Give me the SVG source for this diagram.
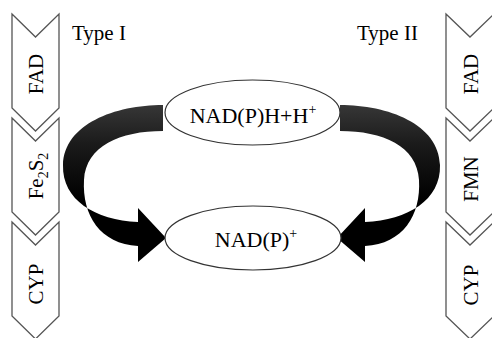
<svg xmlns="http://www.w3.org/2000/svg" width="492" height="338" viewBox="0 0 492 338">
<style>
text{font-family:"Liberation Serif","Times New Roman",serif;fill:#000}
.chev{fill:#fff;stroke:#555;stroke-width:1.3;stroke-linejoin:miter}
.ell{fill:#fff;stroke:#333;stroke-width:1.2}
.lab{font-size:21px;text-anchor:middle}
.big{font-size:22px;text-anchor:middle}
.arrow{fill:url(#g)}
</style>
<defs>
<linearGradient id="g" gradientUnits="userSpaceOnUse" x1="0" y1="100" x2="0" y2="200">
<stop offset="0" stop-color="#3a3a3a"/>
<stop offset="0.45" stop-color="#1a1a1a"/>
<stop offset="1" stop-color="#000"/>
</linearGradient>
<path id="arr" d="M163,105 C115,105 64,124 63,165 C62,200 95,220 138,222 L138,208 L166,238 L138,262 L138,246 C100,244 82,215 84,180 C86,146 120,131 163,131 Z"/>
</defs>
<rect width="492" height="338" fill="#fff"/>
<g id="connectors">
<use href="#arr" class="arrow"/>
<use href="#arr" class="arrow" transform="translate(503,0) scale(-1,1)"/>
</g>
<g id="left-FAD">
<path class="chev" d="M12,14 L35.5,37 L59,14 L59,108 L35.5,131 L12,108 Z"/>
<text class="lab" transform="translate(43,74) rotate(-90)">FAD</text>
</g>
<g id="left-Fe2S2">
<path class="chev" d="M12,118 L35.5,141 L59,118 L59,212 L35.5,235 L12,212 Z"/>
<text class="lab" transform="translate(43,176) rotate(-90)">Fe<tspan font-size="14" dy="5">2</tspan><tspan dy="-5">S</tspan><tspan font-size="14" dy="5">2</tspan></text>
</g>
<g id="left-CYP">
<path class="chev" d="M12,222 L35.5,245 L59,222 L59,316 L35.5,339 L12,316 Z"/>
<text class="lab" transform="translate(43,284) rotate(-90)">CYP</text>
</g>
<g id="right-FAD">
<path class="chev" d="M446,14 L470,37 L494,14 L494,108 L470,131 L446,108 Z"/>
<text class="lab" transform="translate(478,74) rotate(-90)">FAD</text>
</g>
<g id="right-FMN">
<path class="chev" d="M446,118 L470,141 L494,118 L494,212 L470,235 L446,212 Z"/>
<text class="lab" transform="translate(478,179) rotate(-90)">FMN</text>
</g>
<g id="right-CYP">
<path class="chev" d="M446,222 L470,245 L494,222 L494,316 L470,339 L446,316 Z"/>
<text class="lab" transform="translate(478,285) rotate(-90)">CYP</text>
</g>
<g id="typeI"><text x="72" y="40" font-size="21">Type I</text></g>
<g id="typeII"><text x="357" y="40" font-size="21">Type II</text></g>
<g id="nadph">
<ellipse class="ell" cx="252.5" cy="112.5" rx="87.5" ry="32.5"/>
<text class="big" x="253" y="123">NAD(P)H+H<tspan font-size="14" dy="-9">+</tspan></text>
</g>
<g id="nadp">
<ellipse class="ell" cx="253" cy="238" rx="88" ry="32"/>
<text class="big" x="256" y="247">NAD(P)<tspan font-size="14" dy="-9">+</tspan></text>
</g>
</svg>
